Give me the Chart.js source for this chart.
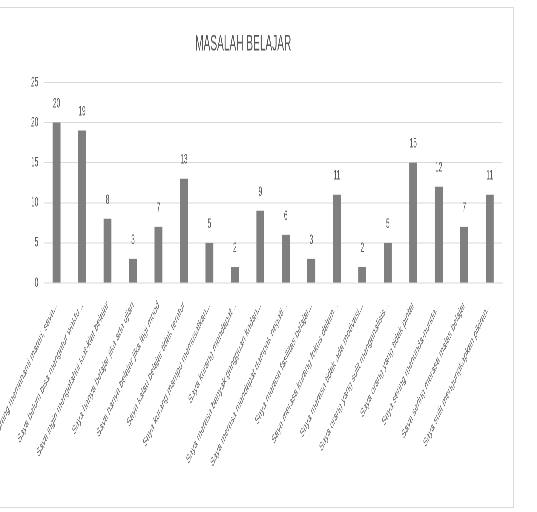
<!DOCTYPE html>
<html>
<head>
<meta charset="utf-8">
<script src="https://cdn.jsdelivr.net/npm/chart.js@4"></script>
<style>
  html, body { margin: 0; padding: 0; background: #ffffff; overflow: hidden; }
  #frame {
    position: absolute; left: -17px; top: 7px; width: 529px; height: 499px;
    border: 1px solid #d9d9d9; overflow: hidden; background: #fff;
  }
  #c { position: absolute; left: 0; top: 0; transform: scaleX(0.46); transform-origin: 0 0; }
</style>
</head>
<body>
<div id="frame"><canvas id="c"></canvas></div>
<script>
const chartTitle = "MASALAH BELAJAR";
const categories = [
  "Saya kurang memahami materi, saya...",
  "Saya belum bisa mengatur waktu...",
  "Saya ingin mengetahui kiat-kiat belajar",
  "Saya hanya belajar jika ada ujian",
  "Saya hanya belajar jika lagi mood",
  "Saya kalau belajar tidak teratur",
  "Saya kurang mampu memusatkan...",
  "Saya kurang mendapat...",
  "Saya merasa banyak gangguan kadan...",
  "Saya merasa mendapat dampak negati...",
  "Saya merasa fasilitas belajar...",
  "Saya merasa kurang fokus dalam...",
  "Saya merasa tidak ada motivasi...",
  "Saya orang yang sulit menganalisis...",
  "Saya orang yang tidak pintar",
  "Saya sering menunda-nunda...",
  "Saya sering merasa malas belajar",
  "Saya sulit mengungkapkan pikiran..."
];
const values = [20, 19, 8, 3, 7, 13, 5, 2, 9, 6, 3, 11, 2, 5, 15, 12, 7, 11];
const yTicks = [0, 5, 10, 15, 20, 25];

const SX = 0.46;
const canvas = document.getElementById('c');
const W = Math.round(529 / SX), H = 499;
canvas.width = W; canvas.height = H;
canvas.style.width = W + 'px'; canvas.style.height = H + 'px';

const FONT = "'Liberation Sans', Arial, sans-serif";
const TXT = '#595959';

const dataLabels = {
  id: 'dataLabels',
  afterDatasetsDraw(chart) {
    const ctx = chart.ctx;
    const meta = chart.getDatasetMeta(0);
    ctx.save();
    ctx.fillStyle = TXT;
    ctx.font = "14px " + FONT;
    ctx.textAlign = 'center';
    ctx.textBaseline = 'alphabetic';
    meta.data.forEach((bar, i) => {
      ctx.fillText(String(values[i]), bar.x, bar.y - 15);
    });
    ctx.restore();
  }
};

new Chart(canvas, {
  type: 'bar',
  data: {
    labels: categories,
    datasets: [{
      data: values,
      backgroundColor: '#7f7f7f',
      borderWidth: 0,
      barPercentage: 0.31,
      categoryPercentage: 1.0
    }]
  },
  options: {
    responsive: false,
    devicePixelRatio: 2,
    animation: false,
    layout: { padding: { left: 0, right: 23, top: 0, bottom: 0 } },
    plugins: {
      legend: { display: false },
      tooltip: { enabled: false },
      title: {
        display: true,
        text: chartTitle,
        color: TXT,
        font: { family: FONT, size: 22, weight: 'normal' },
        padding: { top: 23, bottom: 25 }
      }
    },
    scales: {
      x: {
        grid: { display: false, drawTicks: false },
        border: { display: true, color: '#d9d9d9', width: 1 },
        ticks: {
          color: '#6a6a6a',
          font: { family: FONT, size: 12.5 },
          minRotation: 45,
          maxRotation: 45,
          autoSkip: false,
          padding: 15
        },
        afterFit(scale) { scale.height = 224; scale.paddingLeft = 0; scale.paddingRight = 0; }
      },
      y: {
        min: 0, max: 25,
        afterBuildTicks(scale) { scale.ticks = yTicks.map(v => ({ value: v })); },
        grid: { color: '#d9d9d9', drawTicks: false, lineWidth: 1 },
        border: { display: false },
        ticks: {
          color: TXT,
          font: { family: FONT, size: 14 },
          padding: 12
        },
        afterFit(scale) { scale.width = 130; }
      }
    }
  },
  plugins: [dataLabels]
});
</script>
</body>
</html>
